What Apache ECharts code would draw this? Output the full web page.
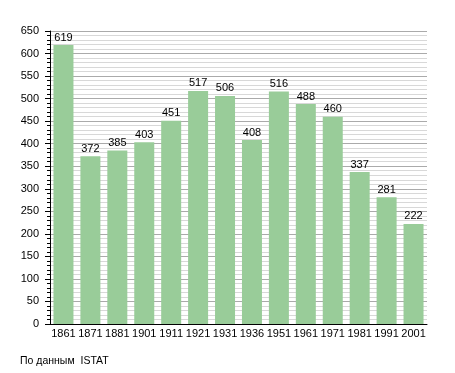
<!DOCTYPE html>
<html><head><meta charset="utf-8">
<script src="https://cdn.jsdelivr.net/npm/echarts@6/dist/echarts.min.js"></script>
<style>html,body{margin:0;padding:0;background:#fff}#c{width:455px;height:373px}</style>
</head><body><div id="c"></div>
<script>
const years = ['1861','1871','1881','1901','1911','1921','1931','1936','1951','1961','1971','1981','1991','2001'];
const population = [619,372,385,403,451,517,506,408,516,488,460,337,281,222];
const yTicks = {min:0, max:650, interval:50};
const chart = echarts.init(document.getElementById('c'), null, {renderer:'canvas'});
chart.setOption({
  animation:false,
  grid:{left:50, right:28, top:31, bottom:49},
  xAxis:{type:'category', data:years,
    axisLine:{lineStyle:{color:'#000', width:1}}, axisTick:{show:false},
    axisLabel:{color:'#000', fontFamily:'Liberation Sans, Arial', fontSize:11, margin:4, interval:0}},
  yAxis:{type:'value', min:yTicks.min, max:yTicks.max, interval:yTicks.interval,
    axisLine:{show:true, lineStyle:{color:'#000', width:1}},
    axisTick:{show:true, length:5, inside:false, lineStyle:{color:'#000'}},
    minorTick:{show:true, splitNumber:5, length:3, lineStyle:{color:'#000'}},
    splitLine:{show:true, lineStyle:{color:'#aaa', width:1}},
    minorSplitLine:{show:true, lineStyle:{color:'#d8d8d8', width:1}},
    axisLabel:{color:'#000', fontFamily:'Liberation Sans, Arial', fontSize:11, margin:11}},
  series:[{type:'bar', data:population, barWidth:20,
    itemStyle:{color:'#99cc99'},
    label:{show:true, position:'top', distance:2, color:'#000', fontFamily:'Liberation Sans, Arial', fontSize:11}}],
  graphic:[{type:'text', left:20, top:356, style:{text:'По данным  ISTAT', fill:'#000', font:'10.5px Liberation Sans, Arial'}}]
});
</script></body></html>
